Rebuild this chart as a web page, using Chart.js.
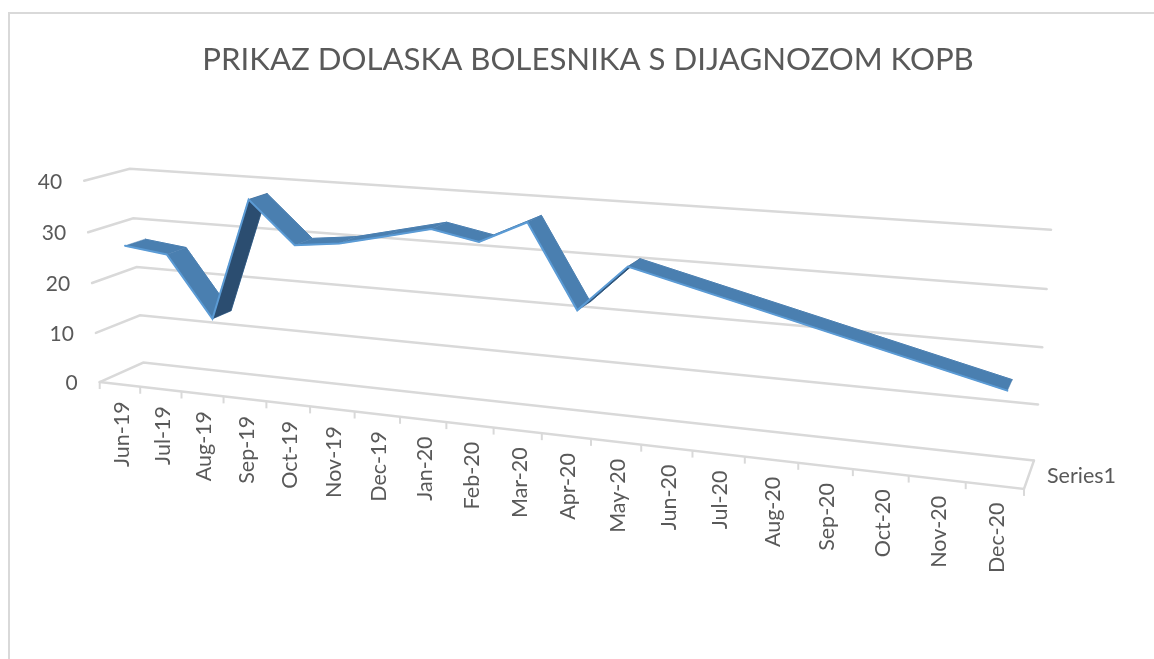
<!DOCTYPE html>
<html>
<head>
<meta charset="utf-8">
<title>KOPB</title>
<script src="https://cdn.jsdelivr.net/npm/chart.js@4"></script>
<style>
html, body { margin: 0; padding: 0; background: #fff; }
canvas { display: block; }
</style>
</head>
<body>
<canvas id="kopbChart" width="1154" height="659"></canvas>
<script>
const chartTitle = 'PRIKAZ DOLASKA BOLESNIKA S DIJAGNOZOM KOPB';
const seriesName = 'Series1';
const months = ['Jun-19', 'Jul-19', 'Aug-19', 'Sep-19', 'Oct-19', 'Nov-19', 'Dec-19', 'Jan-20', 'Feb-20', 'Mar-20',
    'Apr-20', 'May-20', 'Jun-20', 'Jul-20', 'Aug-20', 'Sep-20', 'Oct-20', 'Nov-20', 'Dec-20'];
// empty months are joined straight across, like the original sheet
const visits = [27.2, 26.2, 14.3, 38, 30, 31, 33, 35, 33.3, 37.5, 22.4, 31, null, null, null, null, null, null, 15.4];
const valueTicks = [0, 10, 20, 30, 40];

const gridColor = '#d9d9d9';
const textColor = '#595959';
const fontName = 'Lato, "Open Sans", sans-serif';

// ribbon sits inside the depth of the box, and runs a bit wider than the tick bins
const ribbonFront = 0.2;
const ribbonBack = 0.65;
const xMin = -0.65;
const xMax = 18.43;

// box corners: [u, v, z, pageX, pageY]
const boxMarks = [
    [0, 0, 0, 100, 382], [1, 0, 0, 1024, 489], [0, 0, 1, 143, 363], [1, 0, 1, 1034, 461],
    [0, 0.25, 0, 96, 333], [0, 0.5, 0, 92, 283], [0, 0.75, 0, 88, 232], [0, 1, 0, 84, 181],
    [0, 0.25, 1, 140, 315], [0, 0.5, 1, 137, 267], [0, 0.75, 1, 133, 218], [0, 1, 1, 130, 169],
    [1, 0.25, 1, 1038, 404], [1, 0.5, 1, 1042, 347], [1, 0.75, 1, 1047, 289], [1, 1, 1, 1051, 230]
];

// least squares fit of a 3x4 camera matrix, last entry fixed to 1
function fitCamera(marks) {
    const n = 11;
    const a = Array.from({ length: n }, () => new Array(n + 1).fill(0));
    const addRow = (row, rhs) => {
        for (let i = 0; i < n; i++) {
            for (let j = 0; j < n; j++) a[i][j] += row[i] * row[j];
            a[i][n] += row[i] * rhs;
        }
    };
    marks.forEach(([u, v, z, px, py]) => {
        addRow([u, v, z, 1, 0, 0, 0, 0, -px * u, -px * v, -px * z], px);
        addRow([0, 0, 0, 0, u, v, z, 1, -py * u, -py * v, -py * z], py);
    });
    for (let c = 0; c < n; c++) {
        let best = c;
        for (let r = c + 1; r < n; r++) if (Math.abs(a[r][c]) > Math.abs(a[best][c])) best = r;
        [a[c], a[best]] = [a[best], a[c]];
        for (let r = 0; r < n; r++) {
            if (r === c) continue;
            const f = a[r][c] / a[c][c];
            for (let k = c; k <= n; k++) a[r][k] -= f * a[c][k];
        }
    }
    return a.map((row, i) => row[n] / row[i]);
}
const cam = fitCamera(boxMarks);

function project(u, v, z) {
    const w = cam[8] * u + cam[9] * v + cam[10] * z + 1;
    return {
        x: (cam[0] * u + cam[1] * v + cam[2] * z + cam[3]) / w,
        y: (cam[4] * u + cam[5] * v + cam[6] * z + cam[7]) / w
    };
}

const seriesPoints = (z) => visits.map((y, i) => ({ x: i, y, z }));

const gridDatasets = valueTicks.map((t) => ({
    label: 'grid ' + t,
    data: [{ x: xMin, y: t, z: 0 }, { x: xMin, y: t, z: 1 }, { x: xMax, y: t, z: 1 }],
    borderColor: gridColor,
    borderWidth: 2.5,
    order: 5
}));
const floorEdge = {
    label: 'floor edge',
    data: [{ x: xMin, y: 0, z: 0 }, { x: xMax, y: 0, z: 0 }, { x: xMax, y: 0, z: 1 }],
    borderColor: gridColor,
    borderWidth: 2.5,
    order: 5
};
const ribbonBackLine = {
    label: seriesName + ' back',
    ribbon: 'back',
    data: seriesPoints(ribbonBack),
    borderColor: '#4a7fb0',
    borderWidth: 1,
    order: 2
};
const ribbonFrontLine = {
    label: seriesName,
    ribbon: 'front',
    data: seriesPoints(ribbonFront),
    borderColor: '#5b9bd5',
    borderWidth: 2,
    order: 1
};

const boxProjection = {
    id: 'boxProjection',
    // swap each element's flat position for its place in the 3D box
    afterDatasetsUpdate(chart) {
        const area = chart.chartArea;
        chart.data.datasets.forEach((ds, d) => {
            const meta = chart.getDatasetMeta(d);
            meta.data.forEach((el, i) => {
                if (el.skip) return;
                const p = project((el.x - area.left) / area.width, (area.bottom - el.y) / area.height, ds.data[i].z);
                el.x = p.x;
                el.y = p.y;
            });
            meta.dataset._path = undefined;
        });
    },
    beforeDraw(chart) {
        // frame of the chart object, cut off on the right and bottom
        const ctx = chart.ctx;
        ctx.save();
        ctx.strokeStyle = gridColor;
        ctx.lineWidth = 2;
        ctx.beginPath();
        ctx.moveTo(9, chart.height);
        ctx.lineTo(9, 13);
        ctx.lineTo(chart.width, 13);
        ctx.stroke();
        ctx.restore();
    },
    // ribbon faces go between the back line and the front line
    afterDatasetDraw(chart, args) {
        if (chart.data.datasets[args.index].ribbon !== 'back') return;
        const back = args.meta.data;
        const frontIndex = chart.data.datasets.findIndex((ds) => ds.ribbon === 'front');
        const front = chart.getDatasetMeta(frontIndex).data;
        const ctx = chart.ctx;
        const used = front.map((el, i) => i).filter((i) => !front[i].skip);
        ctx.save();
        for (let k = 0; k + 1 < used.length; k++) {
            const a = used[k];
            const b = used[k + 1];
            const turn = (front[b].x - front[a].x) * (back[a].y - front[a].y) - (front[b].y - front[a].y) * (back[a].x - front[a].x);
            const color = turn > 0 ? '#2b4d70' : '#4a7fb0';
            ctx.fillStyle = color;
            ctx.strokeStyle = color;
            ctx.lineWidth = 0.5;
            ctx.beginPath();
            ctx.moveTo(front[a].x, front[a].y);
            ctx.lineTo(back[a].x, back[a].y);
            ctx.lineTo(back[b].x, back[b].y);
            ctx.lineTo(front[b].x, front[b].y);
            ctx.closePath();
            ctx.fill();
            ctx.stroke();
        }
        ctx.restore();
    },
    afterDraw(chart) {
        const ctx = chart.ctx;
        ctx.save();
        // category ticks and labels along the front edge of the floor
        ctx.strokeStyle = gridColor;
        ctx.lineWidth = 2;
        for (let k = 0; k <= months.length; k++) {
            const p = project(k / months.length, 0, 0);
            ctx.beginPath();
            ctx.moveTo(p.x, p.y);
            ctx.lineTo(p.x, p.y + 7);
            ctx.stroke();
        }
        ctx.fillStyle = textColor;
        ctx.font = '21.5px ' + fontName;
        months.forEach((label, k) => {
            const p = project((k + 0.5) / months.length, 0, 0);
            ctx.save();
            ctx.translate(p.x + 2, p.y + 17);
            ctx.rotate(-Math.PI / 2);
            ctx.textAlign = 'right';
            ctx.textBaseline = 'middle';
            ctx.fillText(label, 0, 0);
            ctx.restore();
        });
        // value labels beside the left wall
        ctx.font = '21px ' + fontName;
        ctx.textAlign = 'right';
        ctx.textBaseline = 'middle';
        valueTicks.forEach((t) => {
            const p = project(0, t / 40, 0);
            ctx.fillText(String(t), p.x - 22, p.y + 1);
        });
        // depth axis name
        ctx.font = '21.5px ' + fontName;
        ctx.textAlign = 'left';
        ctx.fillText(seriesName, 1047, 476);
        ctx.restore();
    }
};

new Chart(document.getElementById('kopbChart').getContext('2d'), {
    type: 'line',
    data: { datasets: [...gridDatasets, floorEdge, ribbonBackLine, ribbonFrontLine] },
    options: {
        responsive: false,
        animation: false,
        events: [],
        spanGaps: true,
        clip: false,
        layout: { padding: { left: 22, top: 41 } },
        elements: { point: { radius: 0 }, line: { tension: 0, fill: false, borderCapStyle: 'round' } },
        scales: {
            x: { type: 'linear', display: false, min: xMin, max: xMax },
            y: { type: 'linear', display: false, min: 0, max: 40 }
        },
        plugins: {
            legend: { display: false },
            tooltip: { enabled: false },
            title: {
                display: true,
                text: chartTitle,
                color: textColor,
                font: { family: fontName, size: 31.2, weight: 'normal' },
                padding: { top: 0, bottom: 10 }
            }
        }
    },
    plugins: [boxProjection]
});
</script>
</body>
</html>
